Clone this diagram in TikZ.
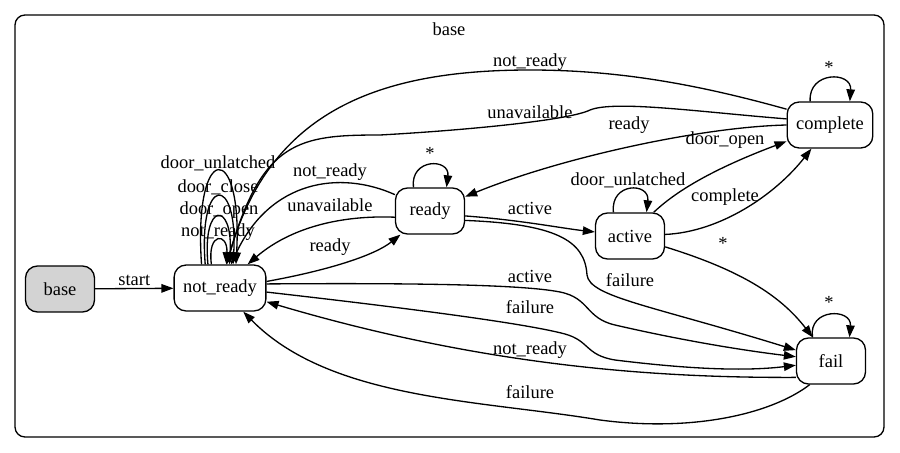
\documentclass[tikz,border=0pt]{standalone}
\usepackage{fontspec}
\setmainfont{Liberation Serif}
\usetikzlibrary{arrows.meta}
\definecolor{lgrey}{HTML}{D3D3D3}

\begin{document}
\begin{tikzpicture}[x=0.02cm, y=-0.02cm,
        every node/.style={font=\fontsize{10.5}{12}\selectfont},
        state/.style={draw, line width=0.75pt, rounded corners=0.24cm, minimum width=1.38cm, minimum height=0.92cm, inner xsep=0.18cm},
        lbl/.style={inner sep=1pt},
        arr/.style={-{Triangle[length=2.4mm,width=1.7mm]}, line width=0.75pt}]

        \useasboundingbox (0,0) rectangle (900,453);
        \draw[line width=0.75pt, rounded corners=0.2cm] (15,15) rectangle (884,437);
        \node at (449,29) (cluster) {base};

        \node[state, fill=lgrey] at (60,289) (base) {base};
        \node[state] at (220,288) (nr) {not\_ready};
        \node[state] at (430,211) (ready) {ready};
        \node[state] at (630,236) (active) {active};
        \node[state] at (830,125) (complete) {complete};
        \node[state] at (831,361) (fail) {fail};

        \draw[arr] (base) -- node[lbl, above] {start} (nr);

        \draw[arr] (nr.110) .. controls (207,232) and (228,232) .. (nr.75) node[lbl] at (218,232) {not\_ready};
        \draw[arr] (nr.117) .. controls (202,201) and (233,201) .. (nr.68) node[lbl] at (219,210) {door\_open};
        \draw[arr] (nr.122) .. controls (198,174) and (238,174) .. (nr.61) node[lbl] at (218,187) {door\_close};
        \draw[arr] (nr.128) .. controls (193,140) and (243,140) .. (nr.56) node[lbl] at (218,163) {door\_unlatched};

        \draw[arr] (nr.8) .. controls (330,270) and (375,255) .. (ready) node[lbl] at (330,247) {ready};
        \draw[arr] (ready.190) .. controls (340,215) and (290,228) .. (nr) node[lbl] at (330,205) {unavailable};
        \draw[arr] (ready.155) .. controls (340,170) and (270,180) .. (nr) node[lbl] at (330,172) {not\_ready};

        \draw[arr] (complete.160) .. controls (700,85) and (620,70) .. (530,70)
            .. controls (380,70) and (270,110) .. (nr) node[lbl] at (530,62) {not\_ready};
        \draw[arr] (complete.172) .. controls (700,112) and (615,100) .. (590,110)
            .. controls (570,120) and (470,130) .. (380,135)
            .. controls (300,135) and (262,140) .. (nr) node[lbl] at (530,112) {unavailable};
        \draw[arr] (complete.180) .. controls (700,127) and (560,158) .. (ready) node[lbl] at (629,125) {ready};

        \draw[arr] (ready.125) .. controls (410,158) and (450,158) .. (ready.55) node[lbl] at (430,153) {*};
        \draw[arr] (ready.-8) .. controls (520,220) and (560,228) .. (active) node[lbl] at (530,208) {active};
        \draw[arr] (ready.-15) .. controls (555,224) and (585,240) .. (587,275)
            .. controls (590,297) and (650,305) .. (fail) node[lbl] at (630,280) {failure};

        \draw[arr] (active.125) .. controls (610,182) and (650,182) .. (active.55) node[lbl] at (628,180) {door\_unlatched};
        \draw[arr] (active.45) .. controls (672,195) and (705,172) .. (complete) node[lbl] at (725,140) {door\_open};
        \draw[arr] (active) .. controls (720,232) and (775,195) .. (complete) node[lbl] at (725,197) {complete};
        \draw[arr] (active) .. controls (740,270) and (780,295) .. (fail) node[lbl] at (723,243) {*};

        \draw[arr] (complete.130) .. controls (808,71) and (852,71) .. (complete.50) node[lbl] at (829,67) {*};
        \draw[arr] (fail.128) .. controls (808,308) and (852,308) .. (fail.52) node[lbl] at (829,302) {*};

        \draw[arr] (nr.5) .. controls (400,283) and (520,284) .. (560,292)
            .. controls (590,298) and (585,318) .. (615,325)
            .. controls (680,340) and (740,350) .. (fail) node[lbl] at (530,276) {active};
        \draw[arr] (nr.-5) .. controls (380,305) and (520,322) .. (565,334)
            .. controls (590,341) and (585,355) .. (615,360)
            .. controls (680,368) and (740,372) .. (fail) node[lbl] at (530,307) {failure};
        \draw[arr] (fail.205) .. controls (650,378) and (480,365) .. (nr) node[lbl] at (530,350) {not\_ready};
        \draw[arr] (fail.228) .. controls (770,415) and (690,432) .. (600,420)
            .. controls (480,400) and (330,400) .. (nr) node[lbl] at (530,392) {failure};
\end{tikzpicture}
\end{document}
